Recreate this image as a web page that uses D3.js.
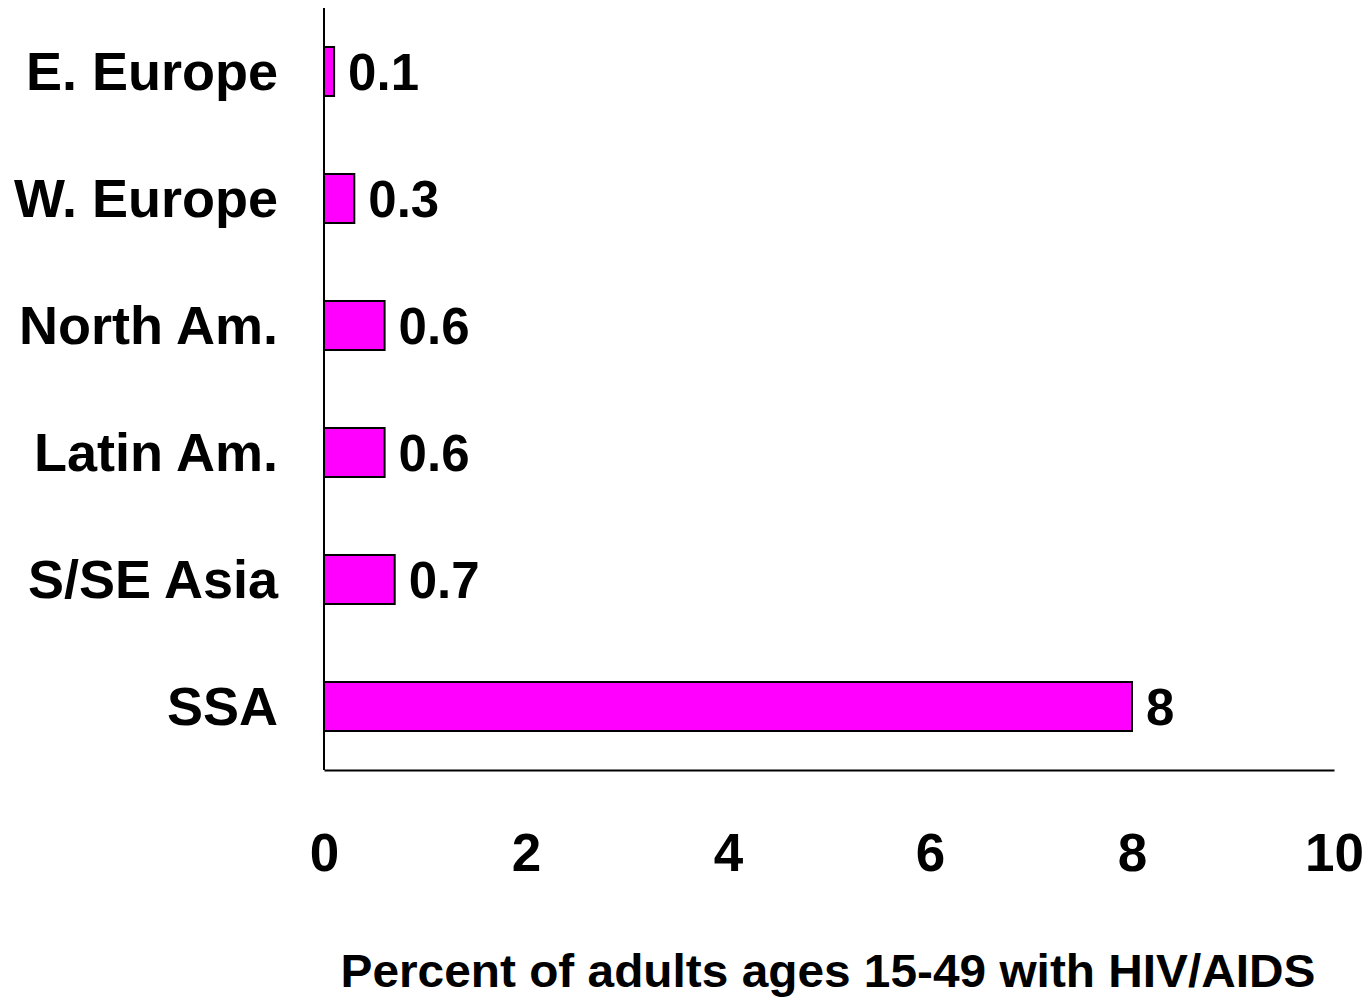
<!DOCTYPE html>
<html>
<head>
<meta charset="utf-8">
<script src="https://cdn.jsdelivr.net/npm/d3@7"></script>
<style>
  html, body { margin: 0; padding: 0; background: #fff; }
  svg text { font-family: "Liberation Sans", Arial, sans-serif; font-weight: bold; fill: #000; }
</style>
</head>
<body>
<svg id="chart" width="1370" height="1000"></svg>
<script>
const categories = ["E. Europe", "W. Europe", "North Am.", "Latin Am.", "S/SE Asia", "SSA"];
const values = [0.1, 0.3, 0.6, 0.6, 0.7, 8];
const valueLabels = ["0.1", "0.3", "0.6", "0.6", "0.7", "8"];
const xTicks = [0, 2, 4, 6, 8, 10];
const xTitle = "Percent of adults ages 15-49 with HIV/AIDS";

const svg = d3.select("#chart");
const x0 = 324, x1 = 1334, yTop = 8, yBottom = 770;

const x = d3.scaleLinear().domain([0, 10]).range([x0, x1]);
const y = d3.scaleBand().domain(categories).range([yTop, yBottom])
  .paddingInner(0.614).paddingOuter(0.307);

// bars
svg.append("g").selectAll("rect")
  .data(categories)
  .join("rect")
  .attr("x", x(0))
  .attr("y", d => y(d))
  .attr("width", (d, i) => x(values[i]) - x(0))
  .attr("height", y.bandwidth())
  .attr("fill", "#FF00FF")
  .attr("stroke", "#000")
  .attr("stroke-width", 2);

// value labels
svg.append("g").selectAll("text")
  .data(categories)
  .join("text")
  .attr("x", (d, i) => x(values[i]) + 14)
  .attr("y", d => y(d) + y.bandwidth() / 2 + 18)
  .attr("font-size", 51)
  .text((d, i) => valueLabels[i]);

// y axis
const yAxis = svg.append("g")
  .attr("transform", `translate(${x0},0)`)
  .call(d3.axisLeft(y).tickSize(0).tickPadding(46));
yAxis.select(".domain").remove();
svg.append("line")
  .attr("x1", x0).attr("x2", x0)
  .attr("y1", yTop).attr("y2", yBottom)
  .attr("stroke", "#000").attr("stroke-width", 2);
yAxis.selectAll(".tick text")
  .attr("font-size", 54)
  .attr("font-family", "Liberation Sans, Arial, sans-serif")
  .attr("font-weight", "bold")
  .attr("fill", "#000")
  .attr("dy", null)
  .attr("y", 18);

// x axis
const xAxis = svg.append("g")
  .attr("transform", `translate(0,${yBottom})`)
  .call(d3.axisBottom(x).tickValues(xTicks).tickSize(0).tickFormat(d3.format("d")));
xAxis.select(".domain").attr("stroke", "#000").attr("stroke-width", 2);
xAxis.selectAll(".tick text")
  .attr("font-size", 53)
  .attr("font-family", "Liberation Sans, Arial, sans-serif")
  .attr("font-weight", "bold")
  .attr("fill", "#000")
  .attr("dy", null)
  .attr("y", 101);

// x title
svg.append("text")
  .attr("x", 828)
  .attr("y", 987)
  .attr("text-anchor", "middle")
  .attr("font-size", 46)
  .attr("textLength", 975)
  .attr("lengthAdjust", "spacingAndGlyphs")
  .text(xTitle);
</script>
</body>
</html>
